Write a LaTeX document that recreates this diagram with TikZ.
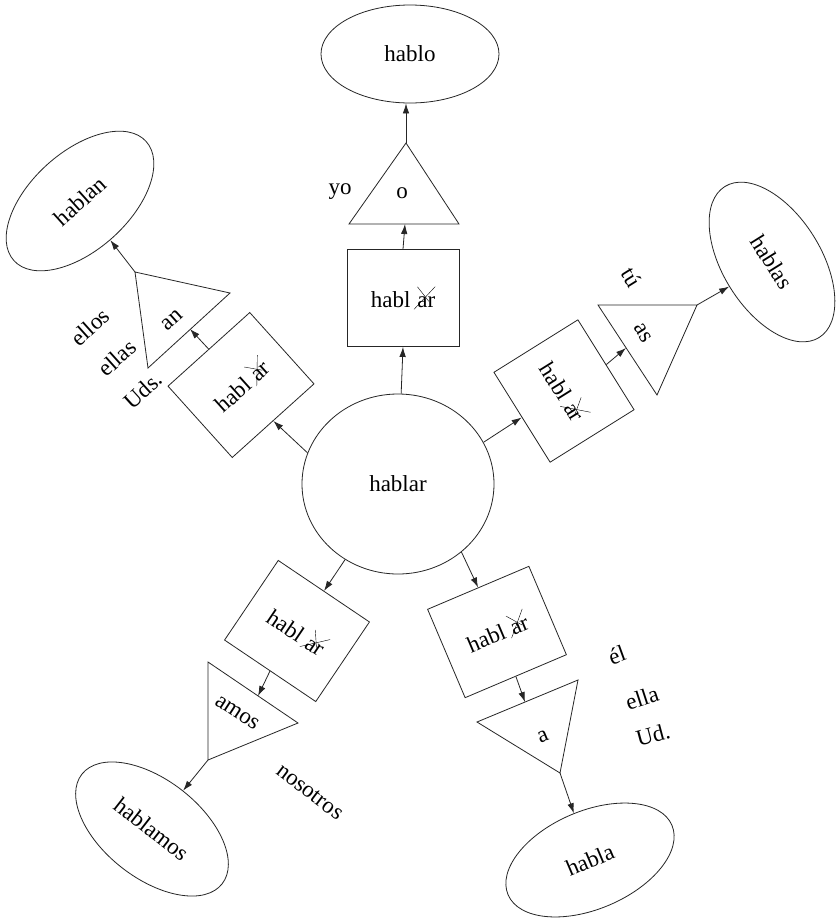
\documentclass[tikz,border=0pt]{standalone}
\usepackage{fontspec}
\setmainfont{Liberation Serif}
\usetikzlibrary{arrows.meta,shapes.geometric}
\newcommand{\crossA}{\makebox[0pt][l]{\hspace{-0.15em}\raisebox{-0.08em}{\rotatebox{47}{\rule{1.35em}{0.4pt}}}}\makebox[0pt][l]{\hspace{0.0em}\raisebox{0.9em}{\rotatebox{-52}{\rule{0.8em}{0.4pt}}}}a}
\newcommand{\hx}{habl\hspace{0.3em}\crossA r}
\begin{document}
\begin{tikzpicture}[x=1pt,y=-1pt,
  ink/.style={draw=black!85, line width=0.8pt},
  lbl/.style={font=\fontsize{23}{26}\selectfont, text=black, inner sep=0pt},
  stembox/.style={ink, lbl, minimum width=110pt, minimum height=96pt},
  leaf/.style={ellipse, ink, lbl, minimum width=178pt, minimum height=98pt},
  arr/.style={ink, -{Latex[length=10pt,width=6.5pt]}}]
\useasboundingbox[fill=white] (0,0) rectangle (836,919);

% center
\node[ellipse, ink, lbl, minimum width=192pt, minimum height=180pt, text depth=-8pt] (c) at (398,484) {hablar};

% branch 1 (top)
\node[stembox, minimum width=112pt, minimum height=97pt] (s1) at (403,298) {\hx};
\coordinate (t1a) at (406,143);
\coordinate (t1b) at (349,224);
\coordinate (t1c) at (459,224);
\coordinate (t1m) at (405,224);
\draw[ink] (t1a) -- (t1b) -- (t1c) -- cycle;
\node[lbl] (t1) at (402,193) {o};
\node[leaf] (e1) at (410,54) {hablo};
\node[lbl] (yo) at (340,192) {yo};
\draw[arr] (c.88) -- (s1.south);
\draw[arr] (s1.north) -- (t1m);
\draw[arr] (t1a) -- (t1a |- e1.south);

% branch 2 (upper left)
\node[stembox, rotate=42] (s2) at (241,385) {\hx};
\coordinate (t2a) at (135,272);
\coordinate (t2b) at (230,293);
\coordinate (t2c) at (148,368);
\coordinate (t2m) at (190,329);
\draw[ink] (t2a) -- (t2b) -- (t2c) -- cycle;
\node[lbl, rotate=42] (t2) at (172,320) {an};
\node[leaf, rotate=42] (e2) at (80,201) {hablan};
\node[lbl, rotate=42] (ellos) at (90,327) {ellos};
\node[lbl, rotate=42] (ellas) at (117,358) {ellas};
\node[lbl, rotate=42] (uds) at (143,390) {Uds.};
\draw[arr] (c.161) -- (s2.south);
\draw[arr] (s2.north) -- (t2m);
\draw[arr] (t2a) -- (e2);

% branch 3 (right)
\node[stembox, rotate=-58, minimum width=106pt, minimum height=99pt] (s3) at (564,391) {\hx};
\coordinate (t3a) at (697,305);
\coordinate (t3b) at (598,305);
\coordinate (t3c) at (657,395);
\coordinate (t3m) at (626,348);
\draw[ink] (t3a) -- (t3b) -- (t3c) -- cycle;
\node[lbl, rotate=-58] (t3) at (643,333) {as};
\node[leaf, rotate=-58] (e3) at (772,262) {hablas};
\node[lbl, rotate=-58] (tu) at (632,277) {tú};
\draw[arr] (c.26) -- (s3.south);
\draw[arr] (s3.north) -- (t3m);
\draw[arr] (t3a) -- (e3);

% branch 4 (lower left)
\node[stembox, rotate=-34] (s4) at (297,631) {\hx};
\coordinate (t4a) at (208,760);
\coordinate (t4b) at (208,662);
\coordinate (t4c) at (298,723);
\coordinate (t4m) at (258,696);
\draw[ink] (t4a) -- (t4b) -- (t4c) -- cycle;
\node[lbl, rotate=-33] (t4) at (237,713) {amos};
\node[leaf, rotate=-38] (e4) at (152,829) {hablamos};
\node[lbl, rotate=-37] (nos) at (310,792) {nosotros};
\draw[arr] (c.235) -- (s4.north);
\draw[arr] (s4.south) -- (t4m);
\draw[arr] (t4a) -- (e4);

% branch 5 (lower right)
\node[stembox, rotate=23] (s5) at (497,632) {\hx};
\coordinate (t5a) at (560,773);
\coordinate (t5b) at (477,722);
\coordinate (t5c) at (578,680);
\coordinate (t5m) at (525,702);
\draw[ink] (t5a) -- (t5b) -- (t5c) -- cycle;
\node[lbl, rotate=23] (t5) at (543,737) {a};
\node[leaf, rotate=23] (e5) at (590,860) {habla};
\node[lbl, rotate=20] (el) at (617,655) {él};
\node[lbl, rotate=18] (ella) at (642,698) {ella};
\node[lbl, rotate=15] (ud) at (653,735) {Ud.};
\draw[arr] (c.313) -- (s5.north);
\draw[arr] (s5.south) -- (t5m);
\draw[arr] (t5a) -- (e5);
\end{tikzpicture}
\end{document}
